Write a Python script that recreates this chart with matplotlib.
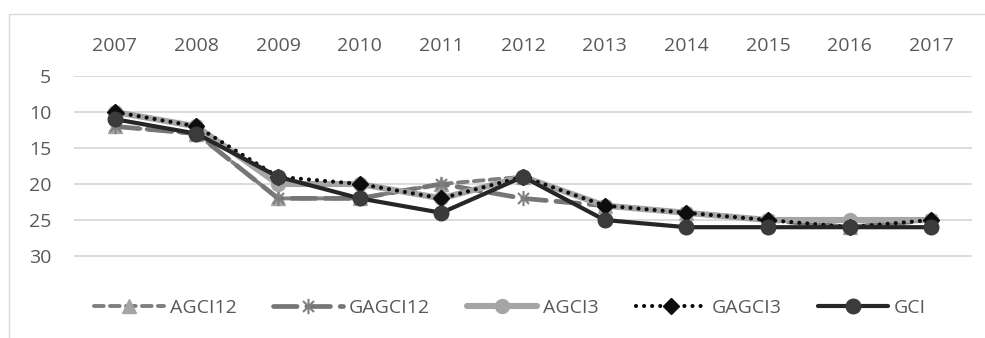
import matplotlib
matplotlib.use("Agg")
import matplotlib.pyplot as plt
from matplotlib.path import Path
from matplotlib.patches import Rectangle

plt.rcParams['font.family'] = ['Open Sans', 'DejaVu Sans']
plt.rcParams['lines.scale_dashes'] = False

# Ranking by year (lower value = better rank)
years = ['2007', '2008', '2009', '2010', '2011', '2012',
         '2013', '2014', '2015', '2016', '2017']
agci12 = [12, 13, 22, 22, 20, 19, 23, 24, 25, 26, 25]
gagci12 = [12, 13, 22, 22, 20, 22, 23, 24, 25, 26, 25]
agci3 = [10, 12, 20, 20, 22, 19, 23, 24, 25, 25, 25]
gagci3 = [10, 12, 19, 20, 22, 19, 23, 24, 25, 26, 25]
gci = [11, 13, 19, 22, 24, 19, 25, 26, 26, 26, 26]
y_ticks = [5, 10, 15, 20, 25, 30]

W, H = 985, 338
TEXT = '#595959'

fig = plt.figure(figsize=(W / 100, H / 100), dpi=100)
ax = fig.add_axes([74 / W, 1 - 292 / H, (972 - 74) / W, (292 - 76) / H])

# asterisk-style marker: vertical bar plus an X
star = Path([(0, -1), (0, 1), (-0.72, -0.72), (0.72, 0.72), (-0.72, 0.72), (0.72, -0.72)],
            [Path.MOVETO, Path.LINETO, Path.MOVETO, Path.LINETO, Path.MOVETO, Path.LINETO])

x = list(range(len(years)))
ax.plot(x, agci12, color='#7F7F7F', lw=2.8, dashes=(7, 4.5), dash_capstyle='round',
        marker='^', ms=10, mfc='#A5A5A5', mec='#A5A5A5', label='AGCI12')
ax.plot(x, gagci12, color='#767676', lw=3.4, dashes=(17, 7), dash_capstyle='round',
        marker=star, ms=11, mfc='none', mec='#7F7F7F', mew=1.5, label='GAGCI12')
ax.plot(x, agci3, color='#A5A5A5', lw=4.4, solid_capstyle='round', solid_joinstyle='round',
        marker='o', ms=10, mfc='#A5A5A5', mec='#A5A5A5', label='AGCI3')
ax.plot(x, gagci3, color='#0D0D0D', lw=3.0, dashes=(0.01, 5.8), dash_capstyle='round',
        marker='D', ms=8.5, mfc='#0D0D0D', mec='#0D0D0D', label='GAGCI3')
ax.plot(x, gci, color='#262626', lw=3.0, solid_capstyle='round', solid_joinstyle='round',
        marker='o', ms=10.5, mfc='#3B3B3B', mec='#3B3B3B', label='GCI')

ax.set_xlim(-0.5, len(years) - 0.5)
ax.set_ylim(35, 5)
ax.set_xticks(x)
ax.set_xticklabels(years)
ax.set_yticks(y_ticks)
ax.xaxis.tick_top()
ax.tick_params(axis='x', length=0, pad=15, labelsize=14, labelcolor=TEXT)
ax.tick_params(axis='y', length=0, pad=16.5, labelsize=14, labelcolor=TEXT)
ax.yaxis.grid(True, color='#D9D9D9', lw=1.3)
ax.set_axisbelow(True)
for s in ax.spines.values():
    s.set_visible(False)

fig.legend(ncol=5, loc='center', bbox_to_anchor=(510 / W, 1 - 308 / H),
           frameon=False, handlelength=3.6, handletextpad=0.3,
           columnspacing=1.9, fontsize=14, labelcolor=TEXT)

# chart-area border
fig.add_artist(Rectangle((9 / W, -0.2), 1.2, (1 - 14 / H) + 0.2,
                         transform=fig.transFigure, fill=False,
                         ec='#D9D9D9', lw=1.0))

fig.savefig('out.png', dpi=100)
